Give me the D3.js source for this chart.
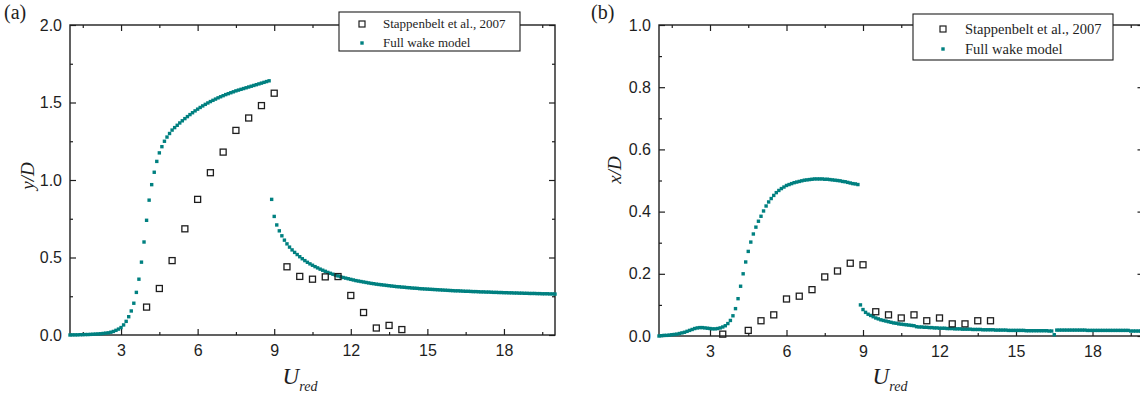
<!DOCTYPE html>
<html>
<head>
<meta charset="utf-8">
<script src="https://cdn.jsdelivr.net/npm/d3@7"></script>
<style>
  body { margin: 0; background: #fff; }
  svg { display: block; }
</style>
</head>
<body>
<svg id="chart" width="1140" height="400"></svg>
<script>
// ---- data ----------------------------------------------------------------
// Reduced velocity axis
const uDomain = [1, 20];
const uMajorTicks = [3, 6, 9, 12, 15, 18];
const uMinorTicks = [1.5, 4.5, 7.5, 10.5, 13.5, 16.5, 19.5];

// Model output is sampled every 0.1 in U_red; each branch lists its first U.
const modelStep = 0.1;
const upperBranchStart = 1.0;
const lowerBranchStart = 8.9;

// (a) cross-flow amplitude y/D, full wake model
const yModelUpper = [
  0.000, 0.001, 0.001, 0.001, 0.002, 0.002, 0.003, 0.003, 0.004, 0.005,
  0.006, 0.007, 0.008, 0.010, 0.012, 0.014, 0.018, 0.023, 0.030, 0.038,
  0.048, 0.065, 0.088, 0.118, 0.155, 0.205, 0.275, 0.360, 0.470, 0.600,
  0.740, 0.870, 0.970, 1.050, 1.120, 1.175, 1.215, 1.250, 1.277, 1.300,
  1.322, 1.338, 1.353, 1.368, 1.382, 1.396, 1.409, 1.422, 1.434, 1.446,
  1.457, 1.468, 1.478, 1.488, 1.497, 1.506, 1.514, 1.522, 1.530, 1.537,
  1.544, 1.551, 1.557, 1.563, 1.569, 1.575, 1.580, 1.585, 1.590, 1.595,
  1.600, 1.605, 1.610, 1.615, 1.620, 1.625, 1.630, 1.635, 1.640
];
const yModelLower = [
  0.875,
  0.765, 0.710, 0.672, 0.640, 0.612, 0.588, 0.567, 0.549, 0.533, 0.519,
  0.505, 0.492, 0.480, 0.469, 0.459, 0.450, 0.441, 0.433, 0.425, 0.418,
  0.411, 0.404, 0.398, 0.392, 0.386, 0.381, 0.376, 0.371, 0.367, 0.363,
  0.359, 0.355, 0.351, 0.348, 0.345, 0.342, 0.339, 0.336, 0.333, 0.331,
  0.328, 0.326, 0.324, 0.322, 0.320, 0.318, 0.316, 0.314, 0.312, 0.311,
  0.309, 0.308, 0.306, 0.305, 0.303, 0.302, 0.301, 0.299, 0.298, 0.297,
  0.296, 0.295, 0.294, 0.293, 0.292, 0.291, 0.290, 0.289, 0.288, 0.287,
  0.286, 0.285, 0.285, 0.284, 0.283, 0.282, 0.282, 0.281, 0.280, 0.280,
  0.279, 0.278, 0.278, 0.277, 0.277, 0.276, 0.275, 0.275, 0.274, 0.274,
  0.273, 0.273, 0.272, 0.272, 0.271, 0.271, 0.270, 0.270, 0.269, 0.269,
  0.268, 0.268, 0.268, 0.267, 0.267, 0.266, 0.266, 0.266, 0.265, 0.265,
  0.264
];
// (a) Stappenbelt et al., 2007 measurements
const yExpU = [4.0, 4.5, 5.0, 5.5, 6.0, 6.5, 7.0, 7.5, 8.0, 8.5, 9.0,
               9.5, 10.0, 10.5, 11.0, 11.5, 12.0, 12.5, 13.0, 13.5, 14.0];
const yExpAmp = [0.18, 0.30, 0.48, 0.685, 0.875, 1.047, 1.18, 1.32, 1.40, 1.48, 1.56,
                 0.44, 0.378, 0.36, 0.375, 0.377, 0.255, 0.145, 0.045, 0.062, 0.035];

// (b) in-line amplitude x/D, full wake model
const xModelUpper = [
  0.000, 0.001, 0.002, 0.002, 0.003, 0.004, 0.005, 0.006, 0.008, 0.010,
  0.012, 0.015, 0.018, 0.021, 0.024, 0.026, 0.027, 0.027, 0.026, 0.025,
  0.024, 0.023, 0.023, 0.024, 0.026, 0.029, 0.033, 0.040, 0.050, 0.065,
  0.088, 0.120, 0.160, 0.200, 0.238, 0.272, 0.302, 0.328, 0.350, 0.369,
  0.385, 0.402, 0.418, 0.431, 0.442, 0.452, 0.461, 0.468, 0.474, 0.479,
  0.484, 0.487, 0.490, 0.493, 0.495, 0.497, 0.499, 0.501, 0.502, 0.503,
  0.504, 0.505, 0.505, 0.505, 0.505, 0.504, 0.504, 0.503, 0.502, 0.501,
  0.500, 0.499, 0.497, 0.496, 0.494, 0.492, 0.490, 0.489, 0.487
];
const xModelLower = [
  0.100,
  0.085, 0.076, 0.070, 0.066, 0.062, 0.058, 0.055, 0.052, 0.050, 0.048,
  0.046, 0.044, 0.042, 0.041, 0.039, 0.038, 0.037, 0.036, 0.035, 0.034,
  0.033, 0.030, 0.029, 0.029, 0.028, 0.028, 0.027, 0.027, 0.026, 0.026,
  0.025, 0.025, 0.025, 0.024, 0.024, 0.024, 0.023, 0.023, 0.023, 0.022,
  0.022, 0.022, 0.022, 0.021, 0.021, 0.021, 0.021, 0.020, 0.020, 0.020,
  0.020, 0.020, 0.019, 0.019, 0.019, 0.019, 0.019, 0.018, 0.018, 0.018,
  0.018, 0.018, 0.018, 0.018, 0.017, 0.017, 0.017, 0.017, 0.017, 0.017,
  0.017, 0.017, 0.017, 0.016, 0.016, 0.004, 0.019, 0.019, 0.019, 0.019,
  0.019, 0.019, 0.019, 0.019, 0.019, 0.019, 0.019, 0.019, 0.018, 0.018,
  0.018, 0.018, 0.018, 0.018, 0.018, 0.018, 0.018, 0.018, 0.018, 0.018,
  0.018, 0.018, 0.018, 0.018, 0.018, 0.016, 0.016, 0.016, 0.016, 0.016,
  0.016
];
// (b) Stappenbelt et al., 2007 measurements
const xExpU = [3.5, 4.5, 5.0, 5.5, 6.0, 6.5, 7.0, 7.5, 8.0, 8.5, 9.0,
               9.5, 10.0, 10.5, 11.0, 11.5, 12.0, 12.5, 13.0, 13.5, 14.0];
const xExpAmp = [0.006, 0.018, 0.049, 0.068, 0.119, 0.128, 0.149, 0.19, 0.209, 0.234, 0.229,
                 0.078, 0.068, 0.058, 0.068, 0.049, 0.058, 0.039, 0.039, 0.049, 0.049];

const legendLabels = ["Stappenbelt et al., 2007", "Full wake model"];

// ---- drawing -------------------------------------------------------------
const svg = d3.select("#chart");
const TEAL = "#008080";
const INK = "#1e1e1e";
const DOT = 3.4;   // side of the model's square dot symbol

function branch(start, values) {
  return values.map((v, i) => ({ u: +(start + i * modelStep).toFixed(2), v }));
}

function drawPanel(cfg) {
  const g = svg.append("g");
  const x = d3.scaleLinear().domain(uDomain).range([cfg.left, cfg.right]);
  const y = d3.scaleLinear().domain([0, cfg.yMax]).range([cfg.bottom, cfg.top]);

  const tickFont = g => g.selectAll("text")
      .attr("font-family", "'Liberation Sans', Arial, sans-serif")
      .attr("font-size", 16).attr("fill", INK);
  const tidy = g => { g.select(".domain").remove(); g.selectAll("line").attr("stroke", INK).attr("stroke-width", 1.2); };

  // bottom axis (inward ticks, labelled)
  g.append("g").attr("transform", `translate(0,${cfg.bottom})`)
    .call(d3.axisBottom(x).tickValues(uMajorTicks).tickSizeInner(-6).tickSizeOuter(0)
      .tickPadding(10).tickFormat(d3.format("d")))
    .call(tidy).call(tickFont);
  g.append("g").attr("transform", `translate(0,${cfg.bottom})`)
    .call(d3.axisBottom(x).tickValues(uMinorTicks).tickSizeInner(-3).tickSizeOuter(0).tickFormat(""))
    .call(tidy);
  // top axis (mirror ticks)
  g.append("g").attr("transform", `translate(0,${cfg.top})`)
    .call(d3.axisTop(x).tickValues(uMajorTicks).tickSizeInner(-6).tickSizeOuter(0).tickFormat(""))
    .call(tidy);
  g.append("g").attr("transform", `translate(0,${cfg.top})`)
    .call(d3.axisTop(x).tickValues(uMinorTicks).tickSizeInner(-3).tickSizeOuter(0).tickFormat(""))
    .call(tidy);
  // left axis (labelled)
  g.append("g").attr("transform", `translate(${cfg.left},0)`)
    .call(d3.axisLeft(y).tickValues(cfg.yMajor).tickSizeInner(-6).tickSizeOuter(0)
      .tickPadding(8).tickFormat(d3.format(".1f")))
    .call(tidy).call(tickFont);
  g.append("g").attr("transform", `translate(${cfg.left},0)`)
    .call(d3.axisLeft(y).tickValues(cfg.yMinor).tickSizeInner(-3).tickSizeOuter(0).tickFormat(""))
    .call(tidy);
  // right axis (mirror ticks)
  g.append("g").attr("transform", `translate(${cfg.right},0)`)
    .call(d3.axisRight(y).tickValues(cfg.yMajor).tickSizeInner(-6).tickSizeOuter(0).tickFormat(""))
    .call(tidy);
  g.append("g").attr("transform", `translate(${cfg.right},0)`)
    .call(d3.axisRight(y).tickValues(cfg.yMinor).tickSizeInner(-3).tickSizeOuter(0).tickFormat(""))
    .call(tidy);

  // frame
  g.append("rect")
    .attr("x", cfg.left).attr("y", cfg.top)
    .attr("width", cfg.right - cfg.left).attr("height", cfg.bottom - cfg.top)
    .attr("fill", "none").attr("stroke", INK).attr("stroke-width", 1.4);

  // model dots
  const model = branch(upperBranchStart, cfg.modelUpper).concat(branch(lowerBranchStart, cfg.modelLower));
  g.append("g").selectAll("rect").data(model).join("rect")
    .attr("x", d => x(d.u) - DOT / 2).attr("y", d => y(d.v) - DOT / 2)
    .attr("width", DOT).attr("height", DOT)
    .attr("fill", TEAL);

  // measured points (open squares)
  const s = 6;
  g.append("g").selectAll("rect").data(cfg.expU.map((u, i) => ({ u, v: cfg.expV[i] }))).join("rect")
    .attr("x", d => x(d.u) - s / 2).attr("y", d => y(d.v) - s / 2)
    .attr("width", s).attr("height", s)
    .attr("fill", "none").attr("stroke", INK).attr("stroke-width", 1.3);

  // axis titles
  g.append("text")
    .attr("transform", `translate(${cfg.yTitleX},${cfg.yTitleY}) rotate(-90)`)
    .attr("text-anchor", "middle")
    .attr("font-family", "'Liberation Serif', 'Times New Roman', serif")
    .attr("font-style", "italic").attr("font-size", 19).attr("fill", INK)
    .text(cfg.yTitle);

  const xt = g.append("text")
    .attr("x", cfg.xTitleX).attr("y", cfg.xTitleY)
    .attr("text-anchor", "middle")
    .attr("font-family", "'Liberation Serif', 'Times New Roman', serif")
    .attr("font-style", "italic").attr("fill", INK);
  xt.append("tspan").attr("font-size", 23).text("U");
  xt.append("tspan").attr("font-size", 14).attr("dy", 7).text("red");

  // panel tag
  g.append("text")
    .attr("x", cfg.tagX).attr("y", 19)
    .attr("font-family", "'Liberation Serif', 'Times New Roman', serif")
    .attr("font-size", 20).attr("fill", INK)
    .text(cfg.tag);

  // legend
  const L = cfg.legend;
  const lg = g.append("g");
  lg.append("rect").attr("x", L.x).attr("y", L.y).attr("width", L.w).attr("height", L.h)
    .attr("fill", "#fff").attr("stroke", INK).attr("stroke-width", 1.1);
  lg.append("rect")
    .attr("x", L.markX - 3).attr("y", L.row1 - 3).attr("width", 6).attr("height", 6)
    .attr("fill", "none").attr("stroke", INK).attr("stroke-width", 1.2);
  lg.append("rect").attr("x", L.markX - DOT / 2).attr("y", L.row2 - DOT / 2)
    .attr("width", DOT).attr("height", DOT).attr("fill", TEAL);
  lg.selectAll("text.lab").data(legendLabels).join("text")
    .attr("class", "lab")
    .attr("x", L.textX).attr("y", (d, i) => (i === 0 ? L.row1 : L.row2) + L.fs * 0.33)
    .attr("font-family", "'Liberation Serif', 'Times New Roman', serif")
    .attr("font-size", L.fs).attr("fill", INK)
    .text(d => d);
}

drawPanel({
  left: 70, right: 555, top: 25, bottom: 335,
  yMax: 2.0, yMajor: [0, 0.5, 1.0, 1.5, 2.0], yMinor: [0.25, 0.75, 1.25, 1.75],
  modelUpper: yModelUpper, modelLower: yModelLower,
  expU: yExpU, expV: yExpAmp,
  yTitle: "y/D", yTitleX: 34, yTitleY: 176,
  xTitleX: 300, xTitleY: 384,
  tag: "(a)", tagX: 4,
  legend: { x: 339, y: 12, w: 181, h: 39, markX: 362, row1: 24, row2: 43, textX: 383, fs: 13 }
});

drawPanel({
  left: 659, right: 1143.5, top: 25, bottom: 336,
  yMax: 1.0, yMajor: [0, 0.2, 0.4, 0.6, 0.8, 1.0], yMinor: [0.1, 0.3, 0.5, 0.7, 0.9],
  modelUpper: xModelUpper, modelLower: xModelLower,
  expU: xExpU, expV: xExpAmp,
  yTitle: "x/D", yTitleX: 621, yTitleY: 170,
  xTitleX: 890, xTitleY: 384,
  tag: "(b)", tagX: 591,
  legend: { x: 913, y: 14, w: 200, h: 46, markX: 943, row1: 29, row2: 49, textX: 965, fs: 14.5 }
});
</script>
</body>
</html>
